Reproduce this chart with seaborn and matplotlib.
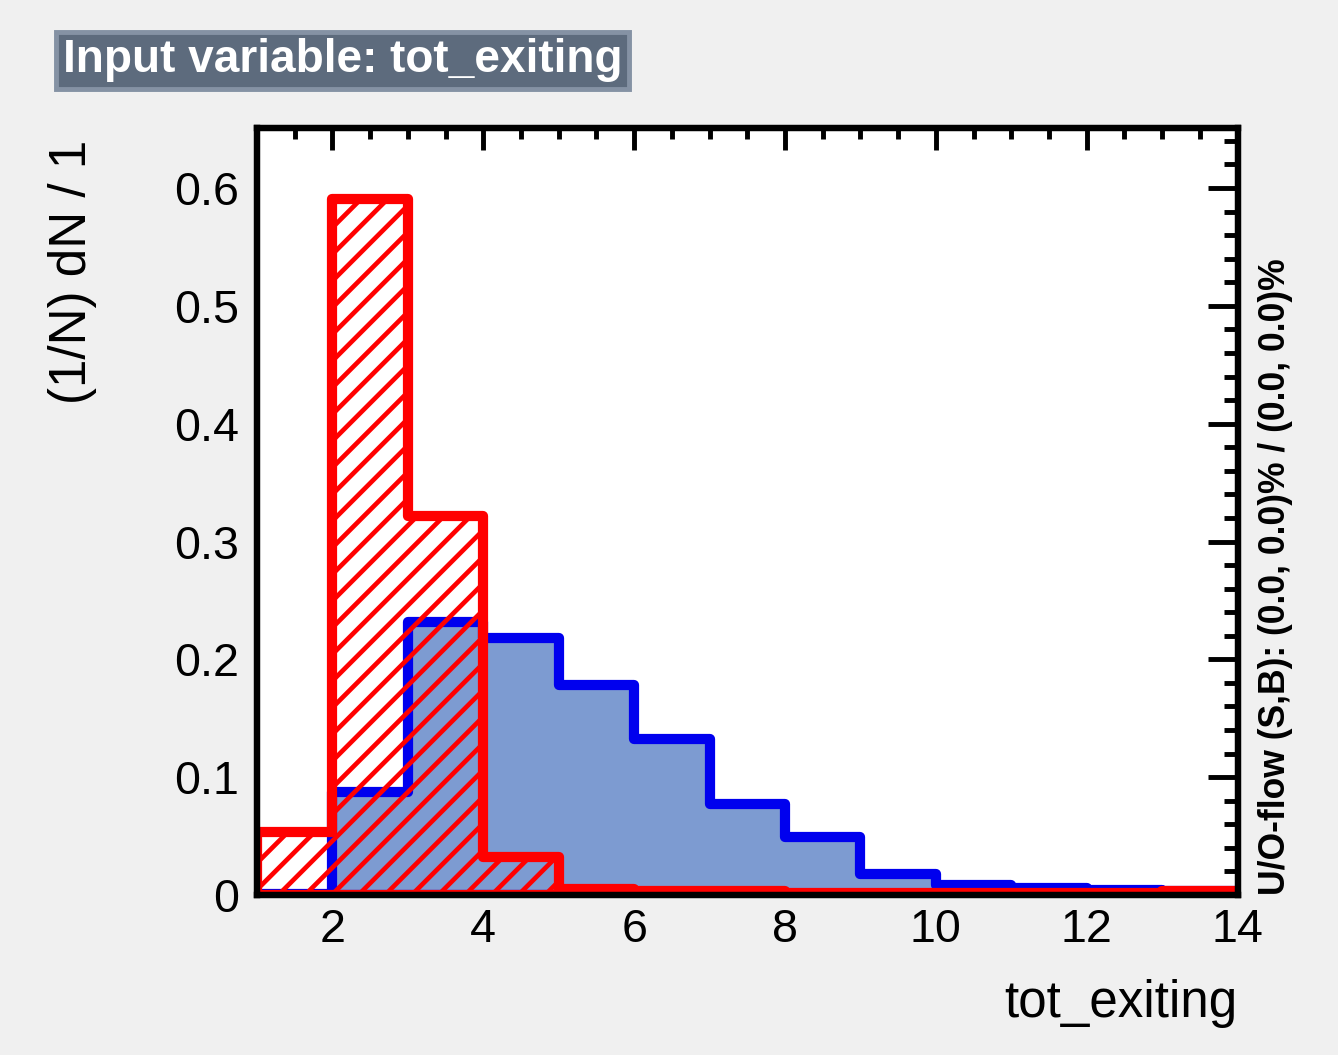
import numpy as np
import pandas as pd
import matplotlib
matplotlib.use("Agg")
import matplotlib.pyplot as plt
from matplotlib.ticker import MultipleLocator, FixedLocator, FixedFormatter
import seaborn as sns

# ---- data ----
bin_edges = [1, 2, 3, 4, 5, 6, 7, 8, 9, 10, 11, 12, 13, 14]
signal = [0.001, 0.0876, 0.232, 0.218, 0.178, 0.132, 0.077, 0.049, 0.018, 0.0085, 0.006, 0.004, 0.003]
background = [0.0535, 0.591, 0.322, 0.032, 0.005, 0.003, 0.003, 0.002, 0.002, 0.002, 0.002, 0.002, 0.003]
xtick_vals = [2, 4, 6, 8, 10, 12, 14]
xtick_labels = ["2", "4", "6", "8", "10", "12", "14"]
ytick_vals = [0, 0.1, 0.2, 0.3, 0.4, 0.5, 0.6]
ytick_labels = ["0", "0.1", "0.2", "0.3", "0.4", "0.5", "0.6"]
title = "Input variable: tot_exiting"
xlabel = "tot_exiting"
ylabel = "(1/N) dN / 1"
side_text = "U/O-flow (S,B): (0.0, 0.0)% / (0.0, 0.0)%"

sns.set_style("white")
plt.rcParams["font.family"] = ["Liberation Sans", "DejaVu Sans"]
plt.rcParams["text.color"] = "black"
plt.rcParams["axes.labelcolor"] = "black"
plt.rcParams["xtick.color"] = "black"
plt.rcParams["ytick.color"] = "black"
plt.rcParams["hatch.color"] = "#ff0000"
plt.rcParams["hatch.linewidth"] = 2.1

DPI = 160
fig = plt.figure(figsize=(1338 / DPI, 1055 / DPI), dpi=DPI, facecolor="#f0f0f0")
ax = fig.add_axes([0.192, 0.1517, 0.733, 0.727])
ax.set_facecolor("white")

edges = [float(e) for e in bin_edges]
centers = [(a + b) / 2 for a, b in zip(edges[:-1], edges[1:])]
df = pd.DataFrame({"x": centers, "sig": signal, "bkg": background})

lw = 4.6
sns.histplot(data=df, x="x", weights="sig", bins=edges, element="step", fill=True,
             color="#7d9bd1", alpha=1, edgecolor="#0000ee", linewidth=lw, ax=ax)
sig_poly = ax.collections[-1]
sig_poly.set_facecolor("#7d9bd1")
sig_poly.set_edgecolor("#0000ee")

sns.histplot(data=df, x="x", weights="bkg", bins=edges, element="step", fill=True,
             color="#ff0000", alpha=1, edgecolor="#ff0000", linewidth=lw, ax=ax)
bkg_poly = ax.collections[-1]
bkg_poly.set_facecolor("none")
bkg_poly.set_edgecolor("#ff0000")
bkg_poly.set_hatch("//")

ax.set_xlim(1, 14)
ax.set_ylim(0, 0.651)

ax.xaxis.set_major_locator(FixedLocator(xtick_vals))
ax.xaxis.set_major_formatter(FixedFormatter(xtick_labels))
ax.xaxis.set_minor_locator(MultipleLocator(0.5))
ax.yaxis.set_major_locator(FixedLocator(ytick_vals))
ax.yaxis.set_major_formatter(FixedFormatter(ytick_labels))
ax.yaxis.set_minor_locator(MultipleLocator(0.02))

ax.tick_params(axis="both", which="both", direction="in", top=True, right=True,
               width=2.2, colors="black", labelsize=21)
ax.tick_params(axis="x", which="major", length=10, pad=6)
ax.tick_params(axis="x", which="minor", length=5)
ax.tick_params(axis="y", which="major", length=13.5, pad=8)
ax.tick_params(axis="y", which="minor", length=6.5)
for s in ax.spines.values():
    s.set_linewidth(2.9)
    s.set_color("black")
    s.set_visible(True)
    s.set_zorder(5)

ax.set_xlabel(xlabel, fontsize=23, loc="right", labelpad=12, color="black")
ax.set_ylabel(ylabel, fontsize=23, loc="top", color="black")
ax.yaxis.set_label_coords(-0.163, 0.985)

fig.text(0.047, 0.943, title, fontsize=20.7, fontweight="bold", color="white",
         ha="left", va="center",
         bbox=dict(boxstyle="square,pad=0.14", fc="#5d6b7d", ec="#8592a4", lw=2.2))

fig.text(0.953, 0.1517, side_text, fontsize=16, fontweight="bold", rotation=90,
         ha="center", va="bottom", color="black")

fig.savefig("out.png", dpi=DPI, facecolor=fig.get_facecolor())
